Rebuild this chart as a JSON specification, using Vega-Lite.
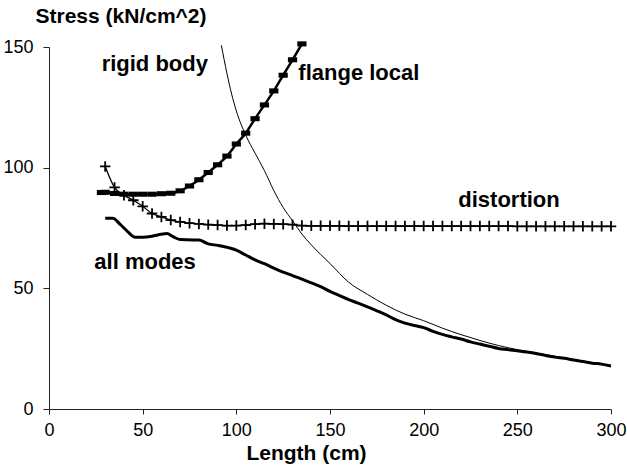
{
  "$schema": "https://vega.github.io/schema/vega-lite/v6.json",
  "width": 562,
  "height": 362,
  "autosize": {"type": "none"},
  "padding": {"left": 49, "top": 47, "right": 16, "bottom": 60},
  "background": "white",
  "config": {
    "view": {"stroke": null},
    "font": "Liberation Sans",
    "axis": {"grid": false, "domainColor": "#222", "tickColor": "#222", "labelColor": "black", "titleColor": "black", "labelFont": "Liberation Sans", "titleFont": "Liberation Sans", "labelFontSize": 18, "titleFontSize": 21, "titleFontWeight": "bold"}
  },
  "datasets": {
    "rigid": [
      {"L": 92, "stress": 150.7}, {"L": 95, "stress": 139}, {"L": 97.5, "stress": 130.5}, {"L": 100, "stress": 123.5},
      {"L": 105, "stress": 113.5}, {"L": 110, "stress": 106}, {"L": 115, "stress": 98.8}, {"L": 120, "stress": 90.5},
      {"L": 125, "stress": 83.5}, {"L": 130, "stress": 78}, {"L": 135, "stress": 72.5}, {"L": 140, "stress": 68},
      {"L": 150, "stress": 60.3}, {"L": 160, "stress": 52.5}, {"L": 170, "stress": 47.5}, {"L": 180, "stress": 43},
      {"L": 190, "stress": 39.3}, {"L": 200, "stress": 36.6}, {"L": 210, "stress": 33.5}, {"L": 220, "stress": 30.8},
      {"L": 230, "stress": 28.4}, {"L": 240, "stress": 26.3}, {"L": 250, "stress": 24.6}, {"L": 260, "stress": 23.2},
      {"L": 270, "stress": 21.9}, {"L": 280, "stress": 20.5}, {"L": 290, "stress": 19.1}, {"L": 300, "stress": 17.7}
    ],
    "allmodes": [
      {"L": 30, "stress": 79}, {"L": 34, "stress": 79}, {"L": 38, "stress": 76.5}, {"L": 42, "stress": 73.5},
      {"L": 46, "stress": 71.2}, {"L": 50, "stress": 71.2}, {"L": 55, "stress": 71.6}, {"L": 60, "stress": 72.4},
      {"L": 63, "stress": 72.7}, {"L": 66, "stress": 71.5}, {"L": 70, "stress": 70.2}, {"L": 77, "stress": 70},
      {"L": 80, "stress": 70}, {"L": 85, "stress": 68.4}, {"L": 90, "stress": 67.8}, {"L": 97, "stress": 66.6},
      {"L": 100, "stress": 65.8}, {"L": 105, "stress": 63.8}, {"L": 110, "stress": 61.8}, {"L": 115, "stress": 60.2},
      {"L": 120, "stress": 58.4}, {"L": 125, "stress": 56.7}, {"L": 130, "stress": 55.3}, {"L": 135, "stress": 53.8},
      {"L": 140, "stress": 52.3}, {"L": 145, "stress": 50.7}, {"L": 150, "stress": 48.7}, {"L": 155, "stress": 47},
      {"L": 160, "stress": 45.3}, {"L": 165, "stress": 43.9}, {"L": 170, "stress": 42.3}, {"L": 175, "stress": 40.7},
      {"L": 180, "stress": 39}, {"L": 185, "stress": 37}, {"L": 190, "stress": 35.6}, {"L": 195, "stress": 34.6},
      {"L": 200, "stress": 33.7}, {"L": 205, "stress": 32.2}, {"L": 210, "stress": 30.9}, {"L": 215, "stress": 29.9},
      {"L": 220, "stress": 29}, {"L": 225, "stress": 27.8}, {"L": 230, "stress": 26.9}, {"L": 235, "stress": 26},
      {"L": 240, "stress": 25.1}, {"L": 245, "stress": 24.6}, {"L": 250, "stress": 24.1}, {"L": 255, "stress": 23.6},
      {"L": 260, "stress": 23}, {"L": 265, "stress": 22.2}, {"L": 270, "stress": 21.5}, {"L": 275, "stress": 21},
      {"L": 280, "stress": 20.3}, {"L": 285, "stress": 19.7}, {"L": 290, "stress": 19}, {"L": 295, "stress": 18.6},
      {"L": 300, "stress": 17.8}
    ],
    "flange": [
      {"L": 28, "stress": 89.7}, {"L": 30, "stress": 89.8}, {"L": 35, "stress": 89.3}, {"L": 40, "stress": 89},
      {"L": 45, "stress": 89}, {"L": 50, "stress": 89}, {"L": 55, "stress": 89}, {"L": 60, "stress": 89.2},
      {"L": 65, "stress": 89.4}, {"L": 70, "stress": 90.4}, {"L": 75, "stress": 92.4}, {"L": 80, "stress": 95},
      {"L": 85, "stress": 98}, {"L": 90, "stress": 101.2}, {"L": 95, "stress": 104.8}, {"L": 100, "stress": 109.8},
      {"L": 105, "stress": 114.3}, {"L": 110, "stress": 120.3}, {"L": 115, "stress": 126}, {"L": 120, "stress": 131.8},
      {"L": 125, "stress": 138.3}, {"L": 130, "stress": 144.7}, {"L": 135, "stress": 151.3}
    ],
    "distortion": [
      {"L": 30, "stress": 100.5}, {"L": 35, "stress": 91.8}, {"L": 40, "stress": 88.6}, {"L": 45, "stress": 86.5},
      {"L": 50, "stress": 84}, {"L": 55, "stress": 81}, {"L": 60, "stress": 79.6}, {"L": 65, "stress": 78.3},
      {"L": 70, "stress": 77.5}, {"L": 75, "stress": 77}, {"L": 80, "stress": 76.7}, {"L": 85, "stress": 76.4},
      {"L": 90, "stress": 76.2}, {"L": 95, "stress": 76}, {"L": 100, "stress": 76}, {"L": 105, "stress": 76.2},
      {"L": 110, "stress": 76.6}, {"L": 115, "stress": 76.8}, {"L": 120, "stress": 76.7}, {"L": 125, "stress": 76.6},
      {"L": 130, "stress": 76.4}, {"L": 135, "stress": 76}, {"L": 140, "stress": 75.9}, {"L": 145, "stress": 75.9},
      {"L": 150, "stress": 75.9}, {"L": 155, "stress": 75.9}, {"L": 160, "stress": 75.8}, {"L": 165, "stress": 75.8},
      {"L": 170, "stress": 75.8}, {"L": 175, "stress": 75.8}, {"L": 180, "stress": 75.8}, {"L": 185, "stress": 75.8},
      {"L": 190, "stress": 75.8}, {"L": 195, "stress": 75.8}, {"L": 200, "stress": 75.8}, {"L": 205, "stress": 75.8},
      {"L": 210, "stress": 75.8}, {"L": 215, "stress": 75.8}, {"L": 220, "stress": 75.8}, {"L": 225, "stress": 75.8},
      {"L": 230, "stress": 75.8}, {"L": 235, "stress": 75.8}, {"L": 240, "stress": 75.8}, {"L": 245, "stress": 75.8},
      {"L": 250, "stress": 75.7}, {"L": 255, "stress": 75.7}, {"L": 260, "stress": 75.7}, {"L": 265, "stress": 75.7},
      {"L": 270, "stress": 75.7}, {"L": 275, "stress": 75.7}, {"L": 280, "stress": 75.7}, {"L": 285, "stress": 75.7},
      {"L": 290, "stress": 75.7}, {"L": 295, "stress": 75.7}, {"L": 300, "stress": 75.7}
    ],
    "labels": [
      {"L": 28.1, "stress": 140.2, "text": "rigid body"},
      {"L": 133.1, "stress": 136.5, "text": "flange local"},
      {"L": 218.5, "stress": 83.7, "text": "distortion"},
      {"L": 24.2, "stress": 58.1, "text": "all modes"}
    ]
  },
  "encoding": {
    "x": {
      "field": "L", "type": "quantitative",
      "scale": {"domain": [0, 300], "nice": false},
      "axis": {"title": "Length (cm)", "values": [0, 50, 100, 150, 200, 250, 300], "tickSize": 5, "labelPadding": 7, "titleX": 257, "titleY": 50, "titleBaseline": "alphabetic", "titleAlign": "center", "labelFlush": false}
    },
    "y": {
      "field": "stress", "type": "quantitative",
      "scale": {"domain": [0, 150], "nice": false},
      "axis": {"title": "Stress (kN/cm^2)", "values": [0, 50, 100, 150], "tickSize": 6, "labelPadding": 10, "titleAngle": 0, "titleX": -14, "titleY": -25, "titleAlign": "left", "titleBaseline": "alphabetic", "labelFlush": false}
    }
  },
  "layer": [
    {"data": {"name": "rigid"}, "mark": {"type": "line", "color": "black", "strokeWidth": 1, "interpolate": "monotone"}},
    {"data": {"name": "allmodes"}, "mark": {"type": "line", "color": "black", "strokeWidth": 3, "interpolate": "monotone"}},
    {"data": {"name": "distortion"}, "mark": {"type": "line", "color": "black", "strokeWidth": 1.3, "interpolate": "monotone"}},
    {"data": {"name": "distortion"}, "mark": {"type": "point", "shape": "M -1 0 L 1 0 M 0 -1 L 0 1", "filled": false, "stroke": "black", "strokeWidth": 1.8, "size": 110, "opacity": 1}},
    {"data": {"name": "flange"}, "mark": {"type": "line", "color": "black", "strokeWidth": 2.5, "interpolate": "monotone"}},
    {"data": {"name": "flange"}, "mark": {"type": "point", "shape": "M -1 -0.55 L 1 -0.55 L 1 0.55 L -1 0.55 Z", "filled": true, "fill": "black", "size": 85, "opacity": 1}},
    {"data": {"name": "labels"}, "mark": {"type": "text", "align": "left", "baseline": "alphabetic", "fontSize": 22, "fontWeight": "bold", "font": "Liberation Sans", "color": "black"}, "encoding": {"text": {"field": "text"}}}
  ]
}
